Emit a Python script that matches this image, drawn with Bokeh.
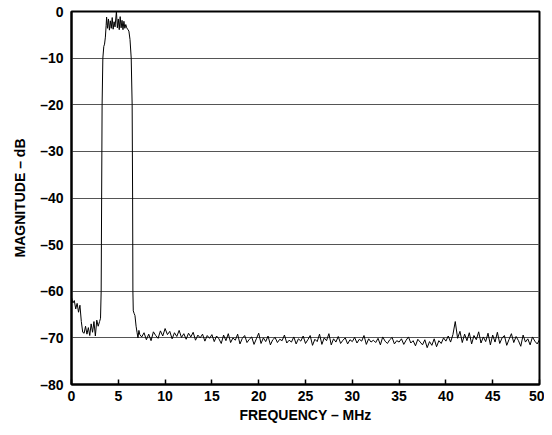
# Spectrum of a band-pass signal: magnitude vs frequency

from bokeh.embed import file_html
from bokeh.models import FixedTicker, Range1d
from bokeh.plotting import figure
from bokeh.resources import INLINE

# Data
# low band, below the pass band
low_freq = [0.0, 0.15, 0.3, 0.45, 0.6, 0.75, 0.9, 1.05, 1.2, 1.35, 1.5,
            1.65, 1.8, 1.95, 2.1, 2.25, 2.4, 2.55, 2.7, 2.85, 3.0, 3.1]
low_db = [-61.3, -62.5, -62.0, -63.8, -62.6, -64.5, -63.0, -66.5, -68.8, -69.0, -67.5,
          -69.2, -67.8, -69.5, -67.0, -68.8, -66.5, -69.6, -66.2, -67.5, -66.5, -65.8]

# pass band with its two edges
band_freq = [3.17, 3.22, 3.27, 3.35, 3.45, 3.53, 3.62, 3.7, 3.75, 3.85, 3.95,
             4.05, 4.15, 4.25, 4.35, 4.45, 4.55, 4.65, 4.8, 4.9, 5.0, 5.1,
             5.2, 5.3, 5.4, 5.5, 5.6, 5.7, 5.8, 5.9, 6.0, 6.13, 6.25, 6.38,
             6.48, 6.53, 6.56, 6.6, 6.7, 6.78, 6.9, 7.0, 7.1, 7.2, 7.3]
band_db = [-60.0, -40.0, -20.0, -10.0, -7.5, -7.0, -5.5, -3.0, -1.2, -3.6, -1.6,
           -4.0, -2.0, -3.6, -1.3, -3.8, -2.2, -3.3, 0.0, -3.5, -1.6, -3.9,
           -1.1, -3.5, -1.9, -3.9, -2.1, -3.6, -2.8, -3.5, -3.8, -4.2, -6.0, -10.0,
           -20.0, -40.0, -60.0, -64.2, -64.8, -65.2, -67.5, -68.8, -70.0, -68.4, -69.3]

# noise floor
floor_freq = [7.5, 7.75, 8.0, 8.25, 8.5, 8.75, 9.0, 9.25, 9.5, 9.75,
              10.0, 10.25, 10.5, 10.75, 11.0, 11.25, 11.5, 11.75, 12.0, 12.25,
              12.5, 12.75, 13.0, 13.25, 13.5, 13.75, 14.0, 14.25, 14.5, 14.75,
              15.0, 15.25, 15.5, 15.75, 16.0, 16.25, 16.5, 16.75, 17.0, 17.25,
              17.5, 17.75, 18.0, 18.25, 18.5, 18.75, 19.0, 19.25, 19.5, 19.75,
              20.0, 20.25, 20.5, 20.75, 21.0, 21.25, 21.5, 21.75, 22.0, 22.25,
              22.5, 22.75, 23.0, 23.25, 23.5, 23.75, 24.0, 24.25, 24.5, 24.75,
              25.0, 25.25, 25.5, 25.75, 26.0, 26.25, 26.5, 26.75, 27.0, 27.25,
              27.5, 27.75, 28.0, 28.25, 28.5, 28.75, 29.0, 29.25, 29.5, 29.75,
              30.0, 30.25, 30.5, 30.75, 31.0, 31.25, 31.5, 31.75, 32.0, 32.25,
              32.5, 32.75, 33.0, 33.25, 33.5, 33.75, 34.0, 34.25, 34.5, 34.75,
              35.0, 35.25, 35.5, 35.75, 36.0, 36.25, 36.5, 36.75, 37.0, 37.25,
              37.5, 37.75, 38.0, 38.25, 38.5, 38.75, 39.0, 39.25, 39.5, 39.75,
              40.0, 40.25, 40.5, 40.75, 41.0, 41.25, 41.5, 41.75, 42.0, 42.25,
              42.5, 42.75, 43.0, 43.25, 43.5, 43.75, 44.0, 44.25, 44.5, 44.75,
              45.0, 45.25, 45.5, 45.75, 46.0, 46.25, 46.5, 46.75, 47.0, 47.25,
              47.5, 47.75, 48.0, 48.25, 48.5, 48.75, 49.0, 49.25, 49.5, 49.75,
              50.0]
floor_db = [-69.8, -68.9, -70.4, -69.2, -70.6, -68.7, -69.5, -70.1, -68.5, -69.6,
            -68.0, -69.3, -68.6, -70.2, -68.9, -69.7, -68.4, -69.9, -69.1, -70.3,
            -69.0, -69.8, -68.8, -70.5, -69.4, -70.0, -69.2, -70.7, -69.5, -70.1,
            -69.3, -70.8, -69.6, -70.2, -71.2, -69.4, -70.6, -69.1, -71.0, -70.0,
            -70.5, -69.2, -71.3, -70.1, -69.5, -71.0, -70.3, -69.8, -71.4, -70.2,
            -69.0, -71.2, -70.0, -70.8, -69.6, -71.5, -70.4, -69.9, -71.0, -70.3,
            -70.6, -69.4, -71.1, -70.5, -70.9, -69.8, -71.3, -70.2, -70.7, -69.6,
            -71.2, -70.4, -69.5, -71.6, -70.3, -70.8, -69.2, -71.4, -70.0, -70.6,
            -69.1, -71.5, -70.2, -70.9, -69.7, -71.2, -70.5, -70.0, -71.3, -70.4,
            -70.8, -69.9, -71.1, -70.3, -70.7, -69.5, -71.4, -70.2, -70.9, -70.5,
            -71.0, -70.1, -71.5, -69.8, -70.7, -71.2, -70.4, -69.9, -71.3, -70.6,
            -70.9, -70.2, -71.4, -70.5, -69.8, -71.1, -70.6, -71.7, -70.3, -70.9,
            -71.5, -70.4, -72.1, -70.8, -71.6, -70.2, -71.9, -70.6, -71.2, -70.0,
            -70.7, -69.6, -70.9, -69.3, -66.5, -70.1, -68.6, -71.0, -69.2, -70.6,
            -68.9, -71.3, -69.5, -70.4, -68.7, -71.1, -69.8, -70.8, -69.0, -71.5,
            -69.4, -70.9, -68.8, -71.2, -70.0, -69.5, -71.6, -70.3, -69.1, -71.0,
            -69.7, -70.6, -71.8, -69.4, -70.9, -70.2, -71.5, -69.8, -70.7, -71.3,
            -70.4]

# Axis ticks
x_ticks = [0, 5, 10, 15, 20, 25, 30, 35, 40, 45, 50]
y_ticks = [-80, -70, -60, -50, -40, -30, -20, -10, 0]
y_tick_labels = ["\u201380", "\u201370", "\u201360", "\u201350", "\u201340",
                 "\u201330", "\u201320", "\u201310", "0"]

freq = low_freq + band_freq + floor_freq
mag = low_db + band_db + floor_db

# Figure
p = figure(width=544, height=426, output_backend="svg", toolbar_location=None,
           x_range=Range1d(0, 50), y_range=Range1d(-80, 0))
p.min_border_left = 71
p.min_border_right = 5
p.min_border_top = 11
p.min_border_bottom = 42
p.outline_line_color = "black"
p.outline_line_width = 2
p.background_fill_color = "white"
p.border_fill_color = "white"

# Trace
p.line(freq, mag, line_color="black", line_width=1)

# Axes
p.xaxis.ticker = FixedTicker(ticks=x_ticks)
p.yaxis.ticker = FixedTicker(ticks=y_ticks)
p.yaxis.major_label_overrides = {t: s for t, s in zip(y_ticks, y_tick_labels)}
p.axis.axis_line_color = "black"
p.axis.axis_line_width = 2
p.axis.minor_tick_line_color = None
p.xaxis.major_tick_in = 5
p.xaxis.major_tick_out = 0
p.xaxis.major_tick_line_width = 1.5
p.xaxis.major_tick_line_color = "black"
p.yaxis.major_tick_in = 0
p.yaxis.major_tick_out = 0
p.yaxis.major_tick_line_color = None
p.axis.major_label_text_font = "Liberation Sans"
p.axis.major_label_text_font_style = "bold"
p.axis.major_label_text_font_size = "14px"
p.axis.major_label_text_color = "black"
p.xaxis.major_label_standoff = 6
p.yaxis.major_label_standoff = 8

p.xaxis.axis_label = "FREQUENCY \u2013 MHz"
p.yaxis.axis_label = "MAGNITUDE \u2013 dB"
p.axis.axis_label_text_font = "Liberation Sans"
p.axis.axis_label_text_font_style = "bold"
p.axis.axis_label_text_font_size = "14px"
p.axis.axis_label_text_color = "black"
p.xaxis.axis_label_standoff = 3
p.yaxis.axis_label_standoff = 9

# Grid
p.xgrid.grid_line_color = None
p.ygrid.grid_line_color = "#555555"
p.ygrid.grid_line_width = 1

open("out.html", "w").write(file_html(p, INLINE))
